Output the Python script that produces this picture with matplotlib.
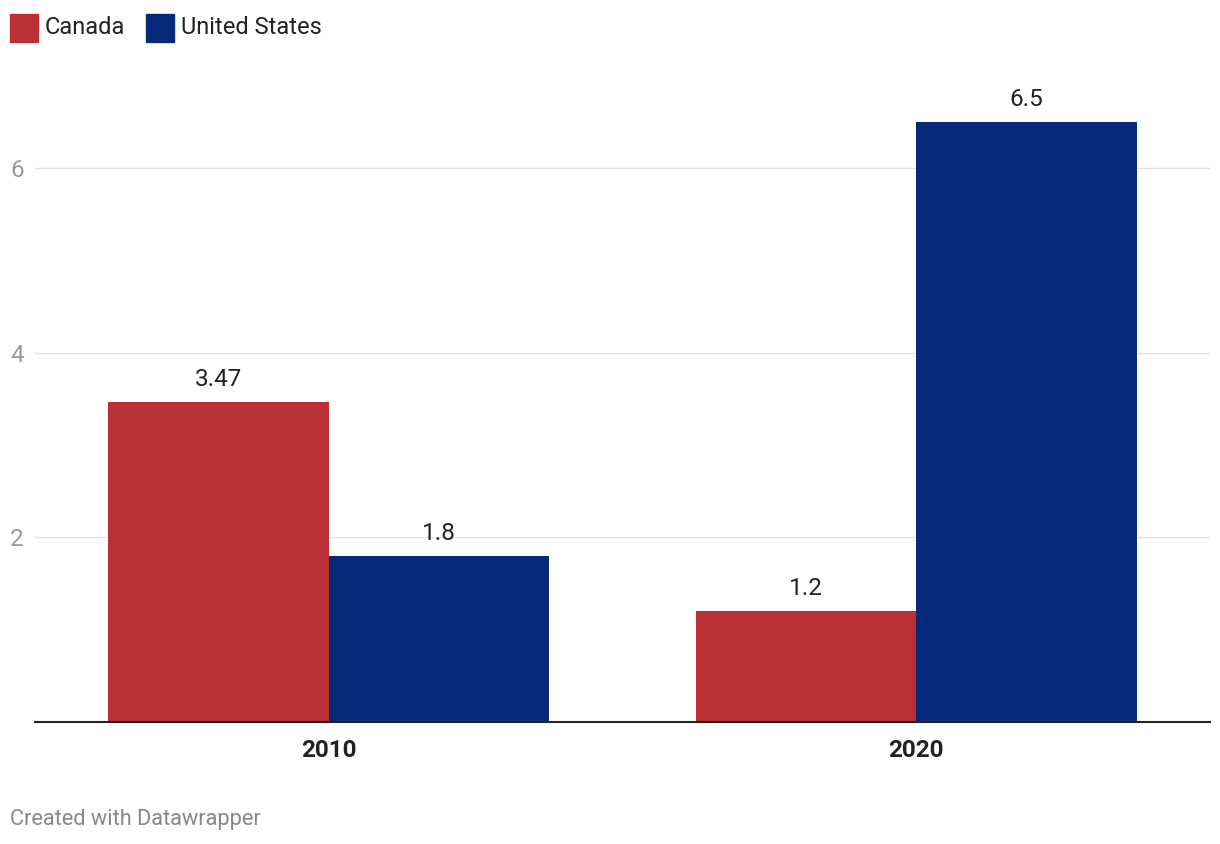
import matplotlib.pyplot as plt
import numpy as np
from matplotlib.patches import Rectangle

plt.rcParams['font.family'] = ['Roboto', 'DejaVu Sans']

# Datos del grafico
years = ["2010", "2020"]
canada = [3.47, 1.2]
usa = [1.8, 6.5]
canada_labels = ["3.47", "1.2"]
usa_labels = ["1.8", "6.5"]
series = ["Canada", "United States"]
colors = ["#BA3034", "#06297A"]

W, H = 1220, 844
fig = plt.figure(figsize=(W / 100, H / 100), dpi=100)

# Ejes en pixeles: x 35..1210, y 76..722
ax = fig.add_axes([35 / W, 1 - 722 / H, (1210 - 35) / W, (722 - 76) / H])
x = np.arange(len(years))
w = 0.375
b1 = ax.bar(x - w / 2, canada, w, color=colors[0], zorder=2)
b2 = ax.bar(x + w / 2, usa, w, color=colors[1], zorder=2)

for bars, labels in [(b1, canada_labels), (b2, usa_labels)]:
    for rect, lab in zip(bars, labels):
        ax.annotate(lab, (rect.get_x() + rect.get_width() / 2, rect.get_height()),
                    xytext=(0, 8), textcoords="offset points", ha="center", va="bottom",
                    fontsize=17.5, color="#222222")

ax.set_xlim(-0.5, 1.5)
ax.set_ylim(0, 7)
ax.set_yticks([2, 4, 6])
ax.set_xticks(x)
ax.set_xticklabels(years, fontsize=17.5, fontweight="bold", color="#222222")
ax.tick_params(axis="x", length=0, pad=12)
ax.tick_params(axis="y", length=0, labelsize=17.5, labelcolor="#999999", pad=0)
for lab in ax.get_yticklabels():
    lab.set_horizontalalignment("left")
    lab.set_x(-25 / (1210 - 35))
ax.grid(axis="y", color="#e3e3e3", linewidth=1, zorder=0)
for s in ["top", "right", "left"]:
    ax.spines[s].set_visible(False)
ax.spines["bottom"].set_color("#222222")
ax.spines["bottom"].set_linewidth(1.5)
ax.spines["bottom"].set_zorder(3)

# Leyenda manual
legend_x = [10, 146]
for lx, name, c in zip(legend_x, series, colors):
    fig.patches.append(Rectangle((lx / W, 1 - 42 / H), 28 / W, 28 / H,
                                 transform=fig.transFigure, color=c))
    fig.text((lx + 35) / W, 1 - 27 / H, name, fontsize=17, color="#222222", va="center")

fig.text(10 / W, 1 - 819 / H, "Created with Datawrapper", fontsize=15.7,
         color="#888888", va="center")

fig.savefig("out.png", dpi=100)
